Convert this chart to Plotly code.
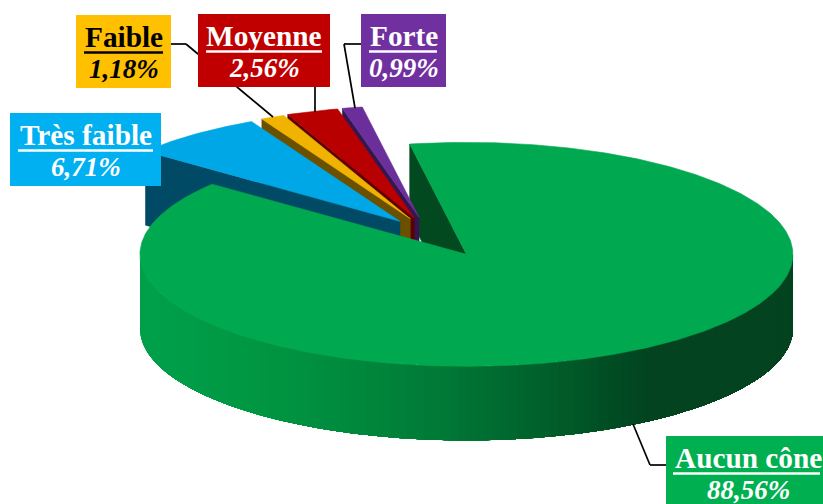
import numpy as np
import plotly.graph_objects as go

# ---- data ----
categories = ["Aucun cône", "Très faible", "Faible", "Moyenne", "Forte"]
shares = [88.56, 6.71, 1.18, 2.56, 0.99]
value_labels = ["88,56%", "6,71%", "1,18%", "2,56%", "0,99%"]

# ---- styles ----
top_colors = ["#00A84F", "#00A7E6", "#F0B400", "#B80000", "#6A2F9A"]
wall_colors = ["#03491F", "#004A66", "#6B5000", "#5C0000", "#351650"]
box_colors = ["#00B050", "#00B0F0", "#FFC000", "#C00000", "#7030A0"]
text_colors = ["white", "white", "black", "white", "white"]
boxes = [(666, 436, 823, 504), (10, 113, 161, 186), (76, 15, 171, 88),
         (198, 14, 330, 87), (361, 14, 446, 87)]
label_centers = [748, 86, 123.5, 264, 403.5]
underlines = [(673, 820), (18, 153), (84, 163), (206, 322), (369, 437)]
nudges = [1.5, 2, 0, -2.5, -4]
leaders = [[(633, 424), (650, 465), (666, 465)],
           [],
           [(171, 44), (186, 44), (198, 54), (237, 87), (273, 117)],
           [(315, 87), (315, 112)],
           [(361, 44), (344, 44), (355, 108)]]

# ---- projected pie geometry ----
CX, CY = 435.0, 237.0   # centre before explosion
A, B = 326.5, 112.0     # ellipse semi-axes
DEPTH = 74.0
EXPLODE = 0.18
START = -10.0           # first slice starts here, degrees clockwise from top

edges = START + np.concatenate([[0], np.cumsum(shares)]) * 3.6


def pt(t_deg, cx, cy):
    t = np.radians(t_deg)
    return cx + A * np.sin(t), cy - B * np.cos(t)


def apex(i):
    mid = (edges[i] + edges[i + 1]) / 2
    t = np.radians(mid)
    return CX + EXPLODE * A * np.sin(t) + nudges[i], CY - EXPLODE * B * np.cos(t)


fig = go.Figure()


def poly(xs, ys, color, name="", lw=0.6):
    xs = list(xs)
    ys = list(ys)
    fig.add_trace(go.Scatter(
        x=xs + xs[:1], y=ys + ys[:1], mode="lines", fill="toself",
        fillcolor=color, line=dict(color=color, width=lw),
        hoverinfo="text" if name else "skip", text=name, showlegend=False))


def top(i):
    cx, cy = apex(i)
    ts = np.linspace(edges[i], edges[i + 1], max(6, int(shares[i] * 6)))
    x, y = pt(ts, cx, cy)
    poly(np.r_[cx, x], np.r_[cy, y], top_colors[i],
         f"{categories[i]}: {value_labels[i]}")


def radial_wall(i, edge):
    cx, cy = apex(i)
    x, y = pt(edge, cx, cy)
    poly([cx, x, x, cx], [cy, y, y + DEPTH, cy + DEPTH], wall_colors[i])


# main slice: inner wall at its start edge goes behind the small slices
radial_wall(0, edges[0])

# small slices, back to front
for i in range(4, 0, -1):
    radial_wall(i, edges[i])
    top(i)

# main slice: outer wall with horizontal shading, painted in shrinking layers
# from the left end to the right end so that no seams appear, then its top
wall_stops_x = [140, 173, 260, 347, 433, 499, 564, 607, 650, 793]
wall_stops_c = [(0, 160, 75), (0, 158, 73), (0, 150, 66), (0, 138, 62), (0, 122, 55),
                (0, 106, 48), (0, 90, 40), (1, 77, 36), (3, 67, 31), (3, 67, 31)]
cx0, cy0 = apex(0)
seg = np.linspace(270, 90, 121)
full = np.linspace(90, 270, 121)
for t1 in seg[:-1]:
    ts = full[full <= t1 + 1e-9]
    x, y = pt(ts, cx0, cy0)
    c = [np.interp(x[-1], wall_stops_x, [s[k] for s in wall_stops_c]) for k in range(3)]
    col = "rgb(%d,%d,%d)" % tuple(c)
    poly(np.r_[x, x[::-1]], np.r_[y, y[::-1] + DEPTH], col, lw=0)
top(0)

# leader lines, then label boxes and heavy underlines, as shapes
shapes = []
for pts in leaders:
    for p, q in zip(pts[:-1], pts[1:]):
        shapes.append(dict(type="line", x0=p[0], y0=p[1], x1=q[0], y1=q[1],
                           line=dict(color="black", width=1.7)))
for b, c in zip(boxes, box_colors):
    shapes.append(dict(type="rect", x0=b[0], y0=b[1], x1=b[2], y1=b[3],
                       fillcolor=c, line=dict(width=0)))
for b, u, tc in zip(boxes, underlines, text_colors):
    shapes.append(dict(type="line", x0=u[0], x1=u[1], y0=b[1] + 37.5, y1=b[1] + 37.5,
                       line=dict(color=tc, width=2.4)))

annotations = []
for name, val, b, xc, tc in zip(categories, value_labels, boxes, label_centers, text_colors):
    annotations.append(dict(x=xc, y=b[1] + 22, text=f"<b>{name}</b>", showarrow=False,
                            font=dict(family="Liberation Serif", size=29.3, color=tc)))
    annotations.append(dict(x=xc, y=b[1] + 54, text=f"<b><i>{val}</i></b>", showarrow=False,
                            font=dict(family="Liberation Serif", size=27, color=tc)))

fig.update_layout(
    width=823, height=504, margin=dict(l=0, r=0, t=0, b=0),
    paper_bgcolor="white", plot_bgcolor="white", showlegend=False,
    xaxis=dict(range=[0, 823], visible=False, fixedrange=True),
    yaxis=dict(range=[504, 0], visible=False, fixedrange=True),
    shapes=shapes, annotations=annotations)

fig.write_html("out.html", config={"displayModeBar": False},
               post_script="document.body.style.margin='0';document.body.style.overflow='hidden';")
